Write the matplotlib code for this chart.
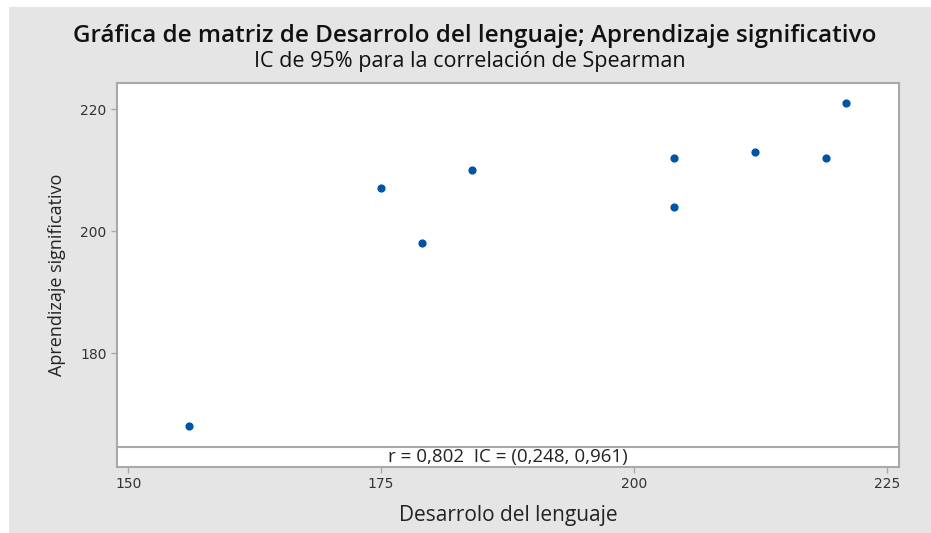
import matplotlib.pyplot as plt
from matplotlib.patches import Rectangle

# Data.
desarrollo = [156, 175, 179, 184, 204, 204, 212, 219, 221]
aprendizaje = [168, 207, 198, 210, 212, 204, 213, 212, 221]
x_ticks = [150, 175, 200, 225]
y_ticks = [180, 200, 220]
stat_text = "r = 0,802  IC = (0,248, 0,961)"

plt.rcParams['font.family'] = ['Open Sans', 'DejaVu Sans']

fig = plt.figure(figsize=(9.31, 5.33), dpi=100, facecolor='white')
# Grey panel behind the chart.
fig.patches.append(Rectangle((9 / 931, 0), 1, 1 - 7 / 533, transform=fig.transFigure,
                             facecolor='#e5e5e5', edgecolor='none', zorder=-1))

ax = fig.add_axes([117 / 931, 1 - 467 / 533, (899 - 117) / 931, (467 - 83) / 533])
ax.set_facecolor('white')

ax.scatter(desarrollo, aprendizaje, s=24, color='#0054a6', zorder=3)

ax.set_xlim(148.9, 226.2)
ax.set_ylim(161.3, 224.3)
ax.set_xticks(x_ticks)
ax.set_yticks(y_ticks)

# Stat strip at the bottom of the plot area.
ax.axhline(164.6, color='#a8a8a8', lw=1.5, zorder=2)
ax.text(0.5, (162.9 - 161.3) / (224.3 - 161.3), stat_text, transform=ax.transAxes,
        ha='center', va='center', fontsize=13.5, color='#222222')

for s in ax.spines.values():
    s.set_color('#a8a8a8')
    s.set_linewidth(1.5)
ax.tick_params(direction='out', length=4, width=1, color='#a8a8a8',
               labelsize=10, labelcolor='#333333')
for lab in ax.get_xticklabels() + ax.get_yticklabels():
    lab.set_family('DejaVu Sans')

ax.set_xlabel('Desarrolo del lenguaje', fontsize=15, color='#222222', labelpad=10)
ax.set_ylabel('Aprendizaje significativo', fontsize=13, color='#222222', labelpad=10)

fig.text(0.51, 1 - 36 / 533, 'Gráfica de matriz de Desarrolo del lenguaje; Aprendizaje significativo',
         ha='center', va='center', fontsize=17.5, fontweight='semibold', color='#111111')
fig.text(0.505, 1 - 61 / 533, 'IC de 95% para la correlación de Spearman',
         ha='center', va='center', fontsize=15.5, color='#111111')

fig.savefig('out.png', dpi=100, facecolor=fig.get_facecolor())
